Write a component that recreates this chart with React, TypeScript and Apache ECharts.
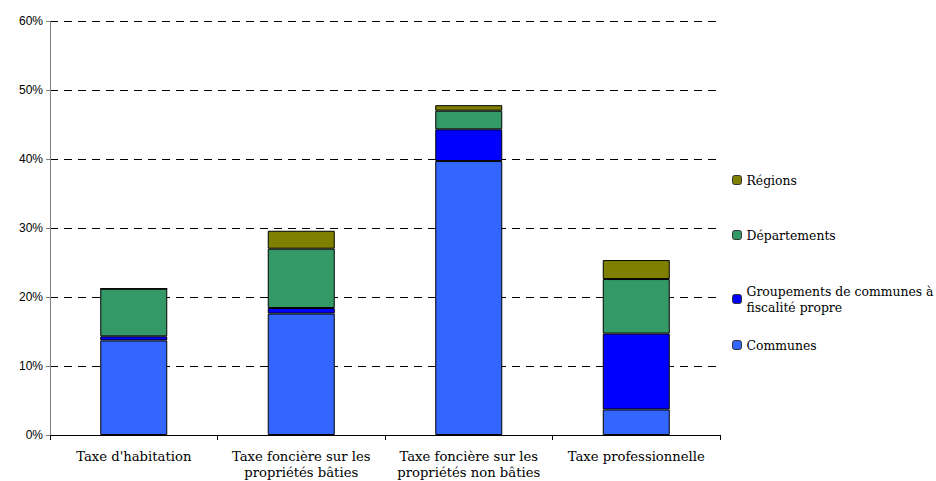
import React, { useEffect, useRef } from "react";
import * as echarts from "echarts";

const categories = [
  "Taxe d'habitation",
  "Taxe foncière sur les\npropriétés bâties",
  "Taxe foncière sur les\npropriétés non bâties",
  "Taxe professionnelle",
];
const communes = [13.7, 17.6, 39.7, 3.7];
const groupements = [0.6, 0.8, 4.6, 11.0];
const departements = [6.9, 8.6, 2.7, 7.9];
const regions = [0, 2.6, 0.8, 2.75];
const yTicks = [0, 10, 20, 30, 40, 50, 60];

const serif = "DejaVu Serif";

export default function App() {
  const ref = useRef<HTMLDivElement>(null);
  useEffect(() => {
    const chart = echarts.init(ref.current!, undefined, { renderer: "svg" });
    const mk = (name: string, data: number[], color: string) => ({
      name,
      type: "bar",
      stack: "total",
      data,
      barWidth: "40%",
      itemStyle: { color, borderColor: "#000", borderWidth: 1 },
    });
    const legendItem = (name: string, top: number, formatter?: string) => ({
      data: [name],
      orient: "vertical",
      left: 732,
      top,
      itemWidth: 9,
      itemHeight: 9,
      itemGap: 0,
      padding: 0,
      formatter: formatter,
      textStyle: { fontFamily: serif, fontSize: 12.4, color: "#000", lineHeight: 16 },
      itemStyle: { borderColor: "#333", borderWidth: 1 },
      selectedMode: false,
    });
    chart.setOption({
      animation: false,
      backgroundColor: "#fff",
      grid: { left: 50, right: 216, top: 21, bottom: 46, outerBoundsMode: "none", containLabel: false },
      legend: [
        legendItem("Régions", 172),
        legendItem("Départements", 227),
        legendItem("Groupements de communes à fiscalité propre", 283, "Groupements de communes à\nfiscalité propre"),
        legendItem("Communes", 337),
      ],
      xAxis: {
        type: "category",
        data: categories,
        boundaryGap: true,
        axisLine: { lineStyle: { color: "#000", width: 1 } },
        axisTick: { show: true, length: 5, interval: 0, lineStyle: { color: "#000" } },
        axisLabel: {
          interval: 0,
          fontFamily: serif,
          fontSize: 13.2,
          color: "#000",
          lineHeight: 15.5,
          margin: 14,
        },
      },
      yAxis: {
        type: "value",
        min: yTicks[0],
        max: yTicks[yTicks.length - 1],
        interval: 10,
        axisLine: { show: true, lineStyle: { color: "#808080" } },
        axisTick: { show: true, length: 4, lineStyle: { color: "#808080" } },
        axisLabel: {
          formatter: "{value}%",
          fontFamily: "Liberation Sans",
          fontSize: 12,
          color: "#000",
          margin: 7,
        },
        splitLine: { lineStyle: { color: "#000", type: [8, 6], width: 1 } },
      },
      series: [
        mk("Communes", communes, "#3366FF"),
        mk("Groupements de communes à fiscalité propre", groupements, "#0000FF"),
        mk("Départements", departements, "#339966"),
        mk("Régions", regions, "#808000"),
      ],
    });
    return () => chart.dispose();
  }, []);
  return <div ref={ref} style={{ width: 936, height: 481, position: "absolute", left: 0, top: 0 }} />;
}
